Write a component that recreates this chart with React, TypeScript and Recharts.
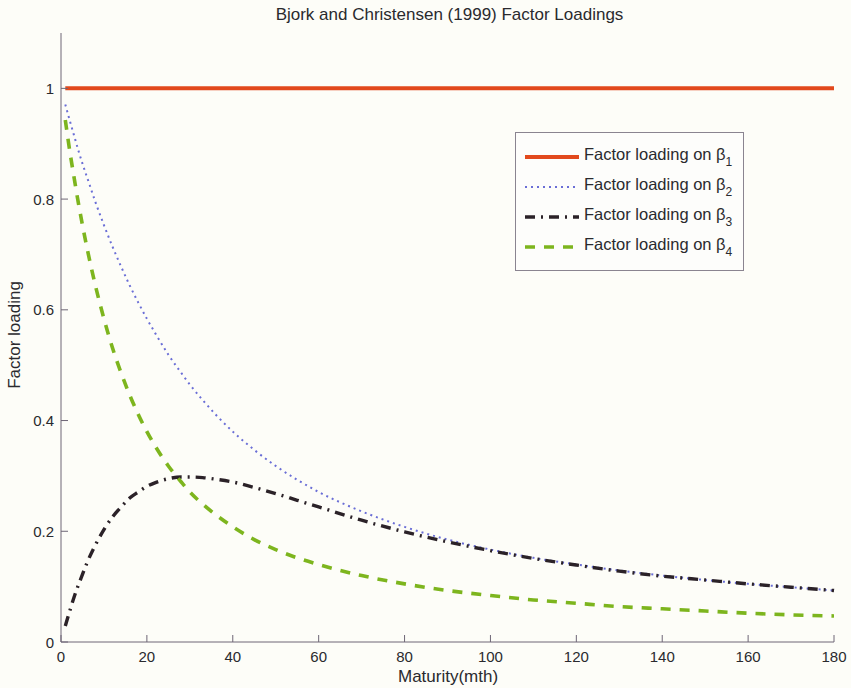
import React from "react";
import { LineChart, Line, XAxis, YAxis } from "recharts";

const maturities = [1, 2, 3, 4, 5, 6, 8, 10, 12, 14, 16, 18, 20, 22, 25, 28, 30, 33, 36, 40, 45, 50, 55, 60, 70, 80, 90, 100, 110, 120, 130, 140, 150, 160, 170, 180];
const beta1 = maturities.map(() => 1);
const beta2 = [0.971, 0.943, 0.916, 0.889, 0.864, 0.841, 0.795, 0.753, 0.714, 0.678, 0.644, 0.613, 0.584, 0.557, 0.519, 0.486, 0.465, 0.437, 0.411, 0.380, 0.347, 0.318, 0.293, 0.271, 0.236, 0.208, 0.185, 0.167, 0.152, 0.140, 0.129, 0.120, 0.112, 0.105, 0.099, 0.093];
const beta3 = [0.029, 0.055, 0.080, 0.102, 0.122, 0.142, 0.175, 0.203, 0.226, 0.244, 0.260, 0.271, 0.281, 0.288, 0.295, 0.298, 0.298, 0.297, 0.294, 0.289, 0.279, 0.268, 0.256, 0.244, 0.220, 0.199, 0.181, 0.165, 0.151, 0.139, 0.128, 0.119, 0.112, 0.105, 0.099, 0.093];
const beta4 = [0.943, 0.889, 0.841, 0.795, 0.753, 0.714, 0.644, 0.584, 0.531, 0.486, 0.446, 0.411, 0.380, 0.353, 0.318, 0.289, 0.271, 0.249, 0.230, 0.208, 0.185, 0.167, 0.152, 0.140, 0.120, 0.105, 0.093, 0.084, 0.076, 0.070, 0.064, 0.060, 0.056, 0.052, 0.049, 0.047];

const xTicks = [0, 20, 40, 60, 80, 100, 120, 140, 160, 180];
const yTicks = [0, 0.2, 0.4, 0.6, 0.8, 1];
const yTickLabels = ["0", "0.2", "0.4", "0.6", "0.8", "1"];

const title = "Bjork and Christensen (1999) Factor Loadings";
const xLabel = "Maturity(mth)";
const yLabel = "Factor loading";

const series = [
  { key: "b1", sub: "1", values: beta1, color: "#e2491d", width: 4, dash: undefined as string | undefined },
  { key: "b2", sub: "2", values: beta2, color: "#6a6ed6", width: 2, dash: "2 4" },
  { key: "b3", sub: "3", values: beta3, color: "#2b2228", width: 3.4, dash: "10 6 2 6" },
  { key: "b4", sub: "4", values: beta4, color: "#7db51e", width: 3.6, dash: "10 9" },
];

const data = maturities.map((t, i) => {
  const row: Record<string, number> = { t };
  series.forEach((s) => (row[s.key] = s.values[i]));
  return row;
});

const FONT = "'Liberation Sans', Arial, Helvetica, sans-serif";
const TEXT = "#2a2a2e";
const AXIS = "#6e6676";
const TICK = 7;

const BottomTick = (p: any) => (
  <g>
    <line x1={p.x} y1={p.y} x2={p.x} y2={p.y - TICK} stroke={AXIS} strokeWidth={1} />
    <text x={p.x} y={p.y + 20} textAnchor="middle" fontSize={15} fontFamily={FONT} fill={TEXT}>
      {p.payload.value}
    </text>
  </g>
);
const TopTick = (p: any) => (
  <line x1={p.x} y1={p.y} x2={p.x} y2={p.y + TICK} stroke={AXIS} strokeWidth={1} />
);
const LeftTick = (p: any) => {
  const idx = yTicks.indexOf(p.payload.value);
  return (
    <g>
      <line x1={p.x} y1={p.y} x2={p.x + TICK} y2={p.y} stroke={AXIS} strokeWidth={1} />
      <text x={p.x - 7} y={p.y + 5.5} textAnchor="end" fontSize={15} fontFamily={FONT} fill={TEXT}>
        {idx >= 0 ? yTickLabels[idx] : p.payload.value}
      </text>
    </g>
  );
};
const RightTick = (p: any) => (
  <line x1={p.x} y1={p.y} x2={p.x - TICK} y2={p.y} stroke={AXIS} strokeWidth={1} />
);

export default function App() {
  return (
    <div style={{ position: "absolute", left: 0, top: 0, width: 851, height: 688, background: "#fdfdf8", fontFamily: FONT, color: TEXT }}>
      <LineChart width={851} height={688} data={data} margin={{ top: 33, right: 17, bottom: 0, left: 0 }}>
        <XAxis dataKey="t" type="number" domain={[0, 180]} ticks={xTicks} height={46} tickSize={0} tickMargin={0} tickLine={false} axisLine={{ stroke: AXIS }} tick={<BottomTick />} interval={0} />
        <XAxis xAxisId="top" orientation="top" dataKey="t" type="number" domain={[0, 180]} ticks={xTicks} height={0} tickSize={0} tickMargin={0} tickLine={false} axisLine={{ stroke: AXIS }} tick={<TopTick />} interval={0} />
        <YAxis type="number" domain={[0, 1.1]} ticks={yTicks} width={61} tickSize={0} tickMargin={0} tickLine={false} axisLine={{ stroke: AXIS }} tick={<LeftTick />} interval={0} />
        <YAxis yAxisId="right" orientation="right" type="number" domain={[0, 1.1]} ticks={yTicks} width={0} tickSize={0} tickMargin={0} tickLine={false} axisLine={{ stroke: AXIS }} tick={<RightTick />} interval={0} />
        {series.map((s) => (
          <Line key={s.key} dataKey={s.key} type="monotone" stroke={s.color} strokeWidth={s.width} strokeDasharray={s.dash} dot={false} activeDot={false} isAnimationActive={false} />
        ))}
      </LineChart>
      <div style={{ position: "absolute", left: 24, width: 851, top: 5, textAlign: "center", fontSize: 17, lineHeight: "20px" }}>
        {title}
      </div>
      <div style={{ position: "absolute", left: 398, width: 100, top: 668, textAlign: "center", fontSize: 17, lineHeight: "17px", whiteSpace: "nowrap" }}>
        {xLabel}
      </div>
      <div style={{ position: "absolute", left: 15, top: 335, width: 0, height: 0 }}>
        <div style={{ position: "absolute", transform: "translate(-50%, -50%) rotate(-90deg)", fontSize: 17, lineHeight: "20px", whiteSpace: "nowrap" }}>
          {yLabel}
        </div>
      </div>
      <div style={{ position: "absolute", left: 515, top: 132, width: 229, height: 139, border: "1px solid #8a8490", background: "#fdfdfb", boxSizing: "border-box" }}>
        {series.map((s, i) => (
          <div key={s.key} style={{ position: "absolute", left: 9, top: 12 + i * 30, height: 24, display: "flex", alignItems: "center", whiteSpace: "nowrap" }}>
            <svg width={54} height={10} style={{ marginRight: 5 }}>
              <line x1={0} y1={5} x2={54} y2={5} stroke={s.color} strokeWidth={s.width} strokeDasharray={s.dash} />
            </svg>
            <span style={{ fontSize: 16.5 }}>
              Factor loading on β<sub style={{ fontSize: 12, verticalAlign: "-6px" }}>{s.sub}</sub>
            </span>
          </div>
        ))}
      </div>
    </div>
  );
}
